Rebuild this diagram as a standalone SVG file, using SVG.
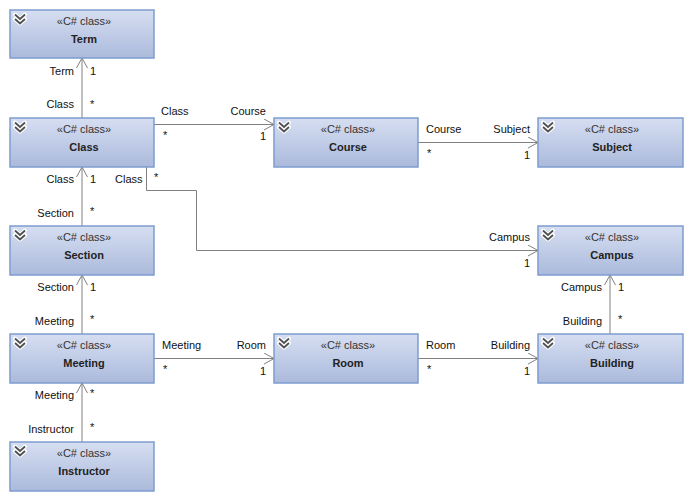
<svg xmlns="http://www.w3.org/2000/svg" width="691" height="499" viewBox="0 0 691 499">
<defs>
<linearGradient id="g" x1="0" y1="0" x2="0" y2="1">
<stop offset="0" stop-color="#d6def1"/>
<stop offset="1" stop-color="#abbadc"/>
</linearGradient>
<marker id="arr" viewBox="0 0 10 12" refX="10" refY="6" markerWidth="10" markerHeight="12" markerUnits="userSpaceOnUse" orient="auto">
<path d="M0,0.5 L10,6 L0,11.5" fill="none" stroke="#808080" stroke-width="1"/>
</marker>
<g id="chev">
<path d="M5,4.5 L10,9 L15,4.5 M5,9 L10,13.5 L15,9" fill="none" stroke="#ffffff" stroke-width="4" stroke-linejoin="round" stroke-linecap="round"/>
<path d="M5,4.5 L10,9 L15,4.5 M5,9 L10,13.5 L15,9" fill="none" stroke="#505050" stroke-width="1.8"/>
</g>
</defs>
<style>
.box{fill:url(#g);stroke:#7d9ccf;stroke-width:1.5}
.st{font-family:"Liberation Sans",Arial,sans-serif;font-size:11px;fill:#333;text-anchor:middle}
.nm{font-family:"Liberation Sans",Arial,sans-serif;font-size:11px;font-weight:bold;fill:#222;text-anchor:middle}
.lb{font-family:"Liberation Sans",Arial,sans-serif;font-size:11px;fill:#111}
.e{text-anchor:end}
.c{fill:none;stroke:#808080;stroke-width:1}
</style>
<g id="connectors">
<path class="c" d="M82,118 V58" marker-end="url(#arr)"/>
<path class="c" d="M82,226 V167" marker-end="url(#arr)"/>
<path class="c" d="M82,334 V275" marker-end="url(#arr)"/>
<path class="c" d="M82,442 V383" marker-end="url(#arr)"/>
<path class="c" d="M610,334 V275" marker-end="url(#arr)"/>
<path class="c" d="M154,124.5 H274" marker-end="url(#arr)"/>
<path class="c" d="M418,142.5 H538" marker-end="url(#arr)"/>
<path class="c" d="M154,358.5 H274" marker-end="url(#arr)"/>
<path class="c" d="M418,358.5 H538" marker-end="url(#arr)"/>
<path class="c" d="M146.5,167 V190.5 H196.5 V250.5 H538" marker-end="url(#arr)"/>
<text class="lb e" x="74" y="75">Term</text><text class="lb" x="90" y="75">1</text>
<text class="lb e" x="74" y="108">Class</text><text class="lb" x="90" y="108">*</text>
<text class="lb" x="161" y="115">Class</text><text class="lb" x="163" y="139">*</text>
<text class="lb e" x="266" y="115">Course</text><text class="lb e" x="266" y="140">1</text>
<text class="lb" x="426" y="133">Course</text><text class="lb" x="427" y="157">*</text>
<text class="lb e" x="530" y="133">Subject</text><text class="lb e" x="530" y="159">1</text>
<text class="lb e" x="74" y="183">Class</text><text class="lb" x="90" y="183">1</text>
<text class="lb e" x="74" y="217">Section</text><text class="lb" x="90" y="215">*</text>
<text class="lb" x="115" y="183">Class</text><text class="lb" x="154" y="181">*</text>
<text class="lb e" x="530" y="241">Campus</text><text class="lb e" x="530" y="267">1</text>
<text class="lb e" x="74" y="291">Section</text><text class="lb" x="90" y="291">1</text>
<text class="lb e" x="74" y="325">Meeting</text><text class="lb" x="90" y="323">*</text>
<text class="lb" x="162" y="349">Meeting</text><text class="lb" x="163" y="373">*</text>
<text class="lb e" x="266" y="349">Room</text><text class="lb e" x="266" y="375">1</text>
<text class="lb" x="426" y="349">Room</text><text class="lb" x="427" y="373">*</text>
<text class="lb e" x="530" y="349">Building</text><text class="lb e" x="530" y="375">1</text>
<text class="lb e" x="602" y="291">Campus</text><text class="lb" x="618" y="291">1</text>
<text class="lb e" x="602" y="325">Building</text><text class="lb" x="618" y="323">*</text>
<text class="lb e" x="74" y="399">Meeting</text><text class="lb" x="90" y="397">*</text>
<text class="lb e" x="74" y="433">Instructor</text><text class="lb" x="90" y="431">*</text>
</g>
<g id="term"><rect class="box" x="10" y="10" width="144" height="48"/><use href="#chev" x="10" y="10"/><text class="st" x="84" y="25">«C# class»</text><text class="nm" x="84" y="43">Term</text></g>
<g id="class"><rect class="box" x="10" y="118" width="144" height="49"/><use href="#chev" x="10" y="118"/><text class="st" x="84" y="133">«C# class»</text><text class="nm" x="84" y="151">Class</text></g>
<g id="section"><rect class="box" x="10" y="226" width="144" height="49"/><use href="#chev" x="10" y="226"/><text class="st" x="84" y="241">«C# class»</text><text class="nm" x="84" y="259">Section</text></g>
<g id="meeting"><rect class="box" x="10" y="334" width="144" height="49"/><use href="#chev" x="10" y="334"/><text class="st" x="84" y="349">«C# class»</text><text class="nm" x="84" y="367">Meeting</text></g>
<g id="instructor"><rect class="box" x="10" y="442" width="144" height="49"/><use href="#chev" x="10" y="442"/><text class="st" x="84" y="457">«C# class»</text><text class="nm" x="84" y="475">Instructor</text></g>
<g id="course"><rect class="box" x="274" y="118" width="144" height="49"/><use href="#chev" x="274" y="118"/><text class="st" x="348" y="133">«C# class»</text><text class="nm" x="348" y="151">Course</text></g>
<g id="room"><rect class="box" x="274" y="334" width="144" height="49"/><use href="#chev" x="274" y="334"/><text class="st" x="348" y="349">«C# class»</text><text class="nm" x="348" y="367">Room</text></g>
<g id="subject"><rect class="box" x="538" y="118" width="145" height="49"/><use href="#chev" x="538" y="118"/><text class="st" x="612" y="133">«C# class»</text><text class="nm" x="612" y="151">Subject</text></g>
<g id="campus"><rect class="box" x="538" y="226" width="145" height="49"/><use href="#chev" x="538" y="226"/><text class="st" x="612" y="241">«C# class»</text><text class="nm" x="612" y="259">Campus</text></g>
<g id="building"><rect class="box" x="538" y="334" width="145" height="49"/><use href="#chev" x="538" y="334"/><text class="st" x="612" y="349">«C# class»</text><text class="nm" x="612" y="367">Building</text></g>
</svg>
